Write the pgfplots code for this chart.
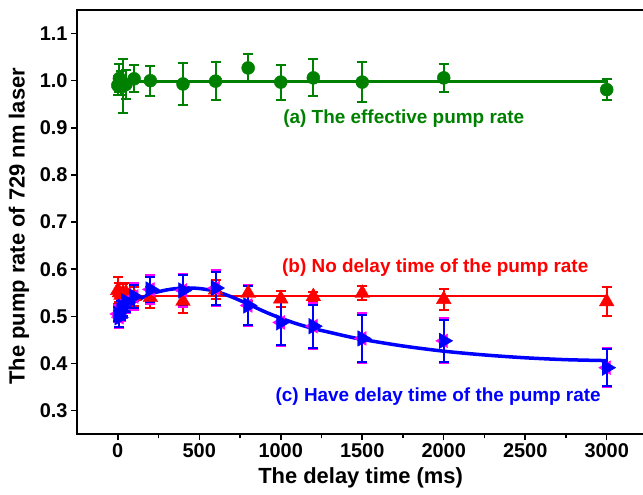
\documentclass[border=0pt]{standalone}
\usepackage{fontspec}
\setmainfont{Liberation Sans}
\usepackage{pgfplots}
\usepackage{pgfplotstable}
\pgfplotsset{compat=1.18}
\usetikzlibrary{calc}
\definecolor{cgreen}{RGB}{0,128,0}
\definecolor{cred}{RGB}{255,0,0}
\definecolor{cblue}{RGB}{0,0,255}
\definecolor{cmag}{RGB}{255,0,255}

\pgfplotstableread{
x y e
0 0.990 0.020
10 1.005 0.030
20 0.995 0.025
30 0.988 0.057
50 0.992 0.030
100 1.004 0.029
200 1.000 0.032
400 0.993 0.044
600 0.999 0.040
800 1.027 0.030
1000 0.997 0.037
1200 1.006 0.039
1500 0.997 0.043
2000 1.006 0.030
3000 0.981 0.022
}\greendata

\pgfplotstableread{
x y e
0 0.555 0.028
10 0.550 0.020
20 0.545 0.015
30 0.548 0.020
50 0.550 0.020
100 0.542 0.020
200 0.540 0.022
400 0.532 0.025
600 0.556 0.020
800 0.549 0.016
1000 0.537 0.017
1200 0.542 0.010
1500 0.549 0.015
2000 0.536 0.022
3000 0.531 0.031
}\reddata

\pgfplotstableread{
x y e
0 0.505 0.015
10 0.498 0.020
20 0.512 0.020
30 0.520 0.020
50 0.532 0.022
100 0.542 0.025
200 0.557 0.027
400 0.555 0.032
600 0.560 0.035
800 0.523 0.041
1000 0.487 0.047
1200 0.479 0.046
1500 0.453 0.050
2000 0.448 0.045
3000 0.391 0.039
}\bluedata

\pgfplotstableread{
x y
0 0.497
25 0.507
50 0.516
100 0.530
200 0.547
300 0.556
400 0.560
500 0.559
600 0.553
700 0.541
800 0.526
900 0.510
1000 0.496
1100 0.484
1200 0.474
1300 0.466
1400 0.458
1500 0.451
1750 0.437
2000 0.426
2250 0.418
2500 0.412
2750 0.408
3000 0.406
}\bluefit

\begin{document}
\begin{tikzpicture}
\begin{axis}[
  scale only axis, width=567bp, height=424bp,
  xmin=-250, xmax=3230, ymin=0.25, ymax=1.15,
  xtick={0,500,1000,1500,2000,2500,3000}, minor x tick num=1,
  ytick={0.3,0.4,0.5,0.6,0.7,0.8,0.9,1.0,1.1},
  yticklabel style={/pgf/number format/.cd, fixed, fixed zerofill, precision=1},
  xticklabel style={/pgf/number format/1000 sep={}},
  /pgf/number format/assume math mode=true,
  tick align=outside, xtick pos=bottom, ytick pos=left,
  major tick length=6bp, minor tick length=4bp,
  every tick/.append style={black, line width=1.5bp},
  axis line style={line width=2bp},
  tick label style={font=\fontsize{20}{24}\selectfont\bfseries},
  label style={font=\fontsize{22}{26}\selectfont\bfseries},
  xlabel={The delay time (ms)},
  ylabel={The pump rate of 729 nm laser},
  xlabel style={at={(axis description cs:0.5,0)}, anchor=base, yshift=-49bp},
  ylabel style={at={(axis description cs:-0.1023,0.49)}, anchor=center},
  clip=false,
]
% (a) green
\addplot[cgreen, only marks, mark=*, mark size=6.5bp,
  error bars/.cd, y dir=both, y explicit,
  error bar style={line width=2bp, cgreen},
  error mark options={rotate=90, mark size=5bp, line width=2bp, cgreen}]
  table[x=x, y=y, y error=e] {\greendata};
\addplot[cgreen, line width=2.5bp, no marks] coordinates {(0,0.998) (3000,0.998)};

% (b) red
\addplot[cred, only marks, mark=triangle*, mark size=8.5bp,
  error bars/.cd, y dir=both, y explicit,
  error bar style={line width=2bp, cred},
  error mark options={rotate=90, mark size=5bp, line width=2bp, cred}]
  table[x=x, y=y, y error=e] {\reddata};
\addplot[cred, line width=2.5bp, no marks] coordinates {(0,0.5435) (3000,0.5435)};

% (c) magenta + blue
\addplot[cmag, only marks, mark=triangle*, mark size=8bp, mark options={rotate=90},
  error bars/.cd, y dir=both, y explicit,
  error bar style={line width=2bp, cmag},
  error mark options={rotate=90, mark size=5bp, line width=2bp, cmag}]
  table[x=x, y=y, y error expr=\thisrow{e}+0.003] {\bluedata};
\addplot[cblue, only marks, mark=triangle*, mark size=9bp, mark options={rotate=-90},
  error bars/.cd, y dir=both, y explicit,
  error bar style={line width=2bp, cblue},
  error mark options={rotate=90, mark size=5bp, line width=2bp, cblue}]
  table[x=x, y=y, y error=e] {\bluedata};
\addplot[cblue, line width=3.5bp, no marks, smooth] table[x=x, y=y] {\bluefit};

\node[cgreen, font=\fontsize{19}{23}\selectfont\bfseries] at (axis cs:1755,0.919) {(a) The effective pump rate};
\node[cred, font=\fontsize{19}{23}\selectfont\bfseries] at (axis cs:1948,0.604) {(b) No delay time of the pump rate};
\node[cblue, font=\fontsize{19}{23}\selectfont\bfseries] at (axis cs:1966,0.329) {(c) Have delay time of the pump rate};
\end{axis}
\pgfresetboundingbox
\path ($(current axis.south west)+(-77bp,-60bp)$) rectangle ($(current axis.north east)+(-1.2bp,10bp)$);
\end{tikzpicture}
\end{document}
